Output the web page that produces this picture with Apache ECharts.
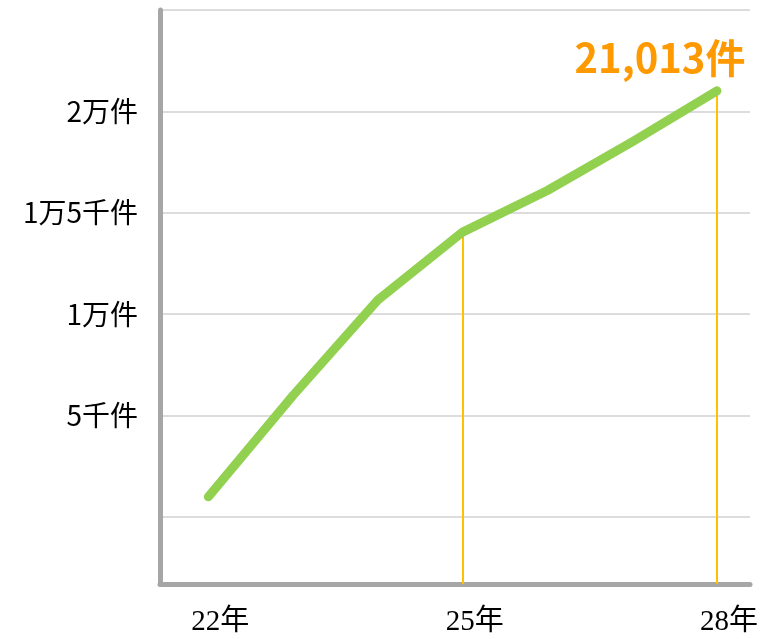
<!DOCTYPE html>
<html>
<head>
<meta charset="utf-8">
<script src="https://cdn.jsdelivr.net/npm/echarts@6/dist/echarts.min.js"></script>
<style>
  html, body { margin: 0; padding: 0; background: #fff; }
  #main { width: 765px; height: 639px; }
</style>
</head>
<body>
<div id="main"></div>
<script>
// 年（22年〜28年）
const years = [22, 23, 24, 25, 26, 27, 28];
// 件数
const counts = [1000, 6000, 10700, 14050, 16100, 18500, 21013];
// 目盛りラベル
const yTickValues = [0, 5000, 10000, 15000, 20000, 25000];
const yLabelValues = [5000, 10000, 15000, 20000];
const yLabelText = { 5000: '5千件', 10000: '1万件', 15000: '1万5千件', 20000: '2万件' };
const xLabelValues = [22, 25, 28];
// 縦線を引く年
const markYears = [25, 28];

const points = years.map((y, i) => [y, counts[i]]);
const yMin = -3300;

let myChart = echarts.init(document.getElementById('main'));

let option = {
  animation: false,
  grid: { left: 160, right: 15, top: 10, bottom: 55 },
  xAxis: {
    type: 'value',
    min: 21.43,
    max: 28.39,
    axisLine: { show: true, onZero: false, lineStyle: { color: '#a6a6a6', width: 5, cap: 'round' } },
    axisTick: { show: false },
    splitLine: { show: false },
    axisLabel: {
      customValues: xLabelValues,
      formatter: v => v + '年',
      margin: 24,
      padding: [0, 0, 0, 24],
      color: '#000',
      fontSize: 29,
      fontFamily: '"Liberation Serif", "Noto Sans CJK JP", serif'
    }
  },
  yAxis: {
    type: 'value',
    min: yMin,
    max: 25000,
    axisLine: { show: true, lineStyle: { color: '#a6a6a6', width: 5, cap: 'round' } },
    axisTick: { show: false, customValues: yTickValues },
    splitLine: { show: true, lineStyle: { color: '#d0d0d0', width: 1.5 } },
    axisLabel: {
      customValues: yLabelValues,
      formatter: v => yLabelText[v] || '',
      margin: 22,
      color: '#000',
      fontSize: 28,
      fontFamily: '"Noto Sans CJK JP", sans-serif'
    }
  },
  series: [
    {
      type: 'line',
      data: points,
      symbol: 'none',
      z: 3,
      lineStyle: { color: '#92d050', width: 9, cap: 'round', join: 'round' },
      markLine: {
        silent: true,
        symbol: 'none',
        label: { show: false },
        lineStyle: { color: '#ffc000', width: 2, type: 'solid' },
        z: 2,
        data: markYears.map(y => [
          { coord: [y, counts[years.indexOf(y)]] },
          { coord: [y, yMin] }
        ])
      },
      markPoint: {
        symbol: 'circle',
        symbolSize: 0,
        data: [{ coord: [28, counts[counts.length - 1]], value: counts[counts.length - 1] }],
        label: {
          show: true,
          formatter: p => p.value.toLocaleString('en-US') + '件',
          color: '#ff9900',
          fontSize: 40,
          fontWeight: 'bold',
          fontFamily: '"Noto Sans CJK JP", sans-serif',
          offset: [-57, -33]
        }
      }
    }
  ]
};

myChart.setOption(option);
</script>
</body>
</html>
